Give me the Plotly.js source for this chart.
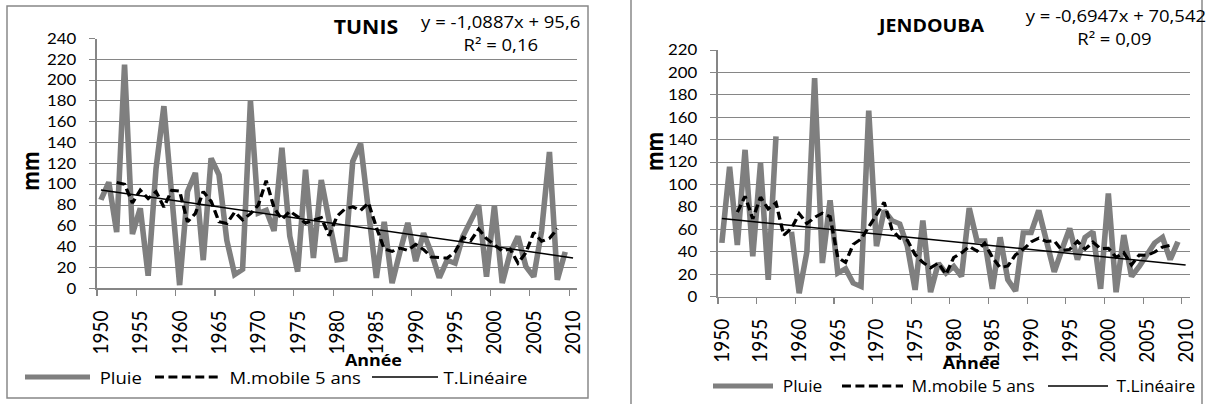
<!DOCTYPE html>
<html><head><meta charset="utf-8">
<script src="https://cdn.plot.ly/plotly-3.0.1.min.js"></script>
<style>
html,body{margin:0;padding:0;background:#fff;overflow:hidden;}
#wrap{width:1206px;height:404px;overflow:hidden;}
#chart{width:1077px;height:404px;transform:scaleX(1.11978);transform-origin:0 0;}
</style></head><body><div id="wrap"><div id="chart"></div></div>
<script>
// ---- categories ----
const years = [];
for (let y = 1950; y <= 2010; y++) years.push(String(y));

// ---- TUNIS ----
const tunisRain = [85,102,54,215,52,77,12,115,175,85, 3,93,111,27,125,109,46,13,18,180,
  72,75,55,135,50,16,114,29,104,65, 27,28,122,139,75,10,64,5,35,63,
  26,53,34,10,27,24,50,64,80,11, 79,5,34,50,21,11,55,131,8,35];
const tunisMA = [101.6,100,82,94.2,86.2,92.8,78,94.2,93.4,63.8,
  71.8,93,83.6,64,62.2,73.2,65.8,71.6,80,103.4,
  77.4,66.2,74,68.8,62.6,65.6,67.8,50.6,69.2,76.2,
  78.2,74.8,82,58.6,37.8,35.4,38.6,36.4,42.2,37.2,
  30,29.6,29,35,49,45.8,56.8,47.8,41.8,35.8,
  37.8,24.2,34.2,53.6,45.2,48,57.3];
const tunisTrendYears = ["1950","2010"];
const tunisTrend = [94.5, 29.2];

// ---- JENDOUBA ----
const jendRain = [48,116,46,131,36,119,15,143,null,58, 3,40,195,30,86,21,25,12,9,166,
  45,77,68,65,45,6,68,4,30,21, 27,18,79,50,50,7,53,15,5,57,
  57,77,48,22,42,61,33,53,58,7, 92,4,55,18,27,38,48,53,33,49];
const jendMA = [75.4,89.6,69.4,88.8,78.3,83.8,54.8,61,74,65.2,
  70.8,74.4,71.4,34.8,30.6,46.6,51.4,61.8,73,84.2,
  60,52.2,50.4,37.6,30.6,25.8,30,20,35,39,
  44.8,40.8,47.8,35,26,27.4,37.4,42.2,48.8,52.2,
  49.2,50,41.2,42.2,49.4,42.4,48.6,42.8,43.2,35.2,
  39.2,28.4,37.2,36.8,39.8,44.2,45.8];
const jendTrendYears = ["1950","2010"];
const jendTrend = [69.8, 28.2];

// ---- text ----
const seriesNames = ["Pluie", "M.mobile 5 ans", "T.Linéaire"];
const tunisTitle = "TUNIS", jendTitle = "JENDOUBA";
const tunisEq = "y = -1,0887x + 95,6", tunisR2 = "R² = 0,16";
const jendEq = "y = -0,6947x + 70,542", jendR2 = "R² = 0,09";
const yTitle = "mm", xTitle = "Année";

const W = 1206, H = 404;
const px = x => x / W, py = y => 1 - y / H;
const grid = '#868686', rainCol = '#7f7f7f';
const TICKFONT = 'Lato, "Open Sans", sans-serif';
const TEXTFONT = '"Open Sans", Lato, sans-serif';

const rainX = years.slice(0, 60);
const maX = years.slice(2, 59);

const traces = [
  {x: rainX, y: tunisRain, xaxis:'x', yaxis:'y', mode:'lines', name: seriesNames[0], connectgaps:false,
   line:{color:rainCol, width:5}},
  {x: maX, y: tunisMA, xaxis:'x', yaxis:'y', mode:'lines', name: seriesNames[1],
   line:{color:'#000', width:3, dash:'8px,4px'}},
  {x: tunisTrendYears, y: tunisTrend, xaxis:'x', yaxis:'y', mode:'lines', name: seriesNames[2],
   line:{color:'#000', width:1.5}},
  {x: rainX, y: jendRain, xaxis:'x2', yaxis:'y2', mode:'lines', name: seriesNames[0], connectgaps:false,
   line:{color:rainCol, width:5}},
  {x: maX, y: jendMA, xaxis:'x2', yaxis:'y2', mode:'lines', name: seriesNames[1],
   line:{color:'#000', width:3, dash:'8px,4px'}},
  {x: jendTrendYears, y: jendTrend, xaxis:'x2', yaxis:'y2', mode:'lines', name: seriesNames[2],
   line:{color:'#000', width:1.5}}
];

function xAxis(domain, anchor) {
  return {domain, anchor, type:'category', categoryorder:'array', categoryarray: years,
    range:[-0.5, 60.5], tickmode:'linear', tick0:0, dtick:5, tickson:'boundaries',
    ticks:'outside', ticklen:6, tickwidth:1, tickcolor:grid, showline:true, linecolor:grid,
    linewidth:1.5, showgrid:false, zeroline:false, tickangle:-90,
    tickfont:{size:19, family:TICKFONT, color:'#000'}, ticklabelstandoff:13, fixedrange:true};
}
function yAxis(domain, anchor, max) {
  return {domain, anchor, range:[0, max], tickmode:'linear', tick0:0, dtick:20,
    ticks:'outside', ticklen:6, tickwidth:1, tickcolor:grid, showline:true, linecolor:grid,
    linewidth:1.5, showgrid:true, gridcolor:grid, gridwidth:1, zeroline:false,
    tickfont:{size:15, family:TICKFONT, color:'#000'}, ticklabelstandoff:8, fixedrange:true};
}

function ann(text, x, y, size, opts) {
  return Object.assign({text, x:px(x), y:py(y), xref:'paper', yref:'paper', showarrow:false,
    xanchor:'center', yanchor:'middle', font:{size, family:TEXTFONT, color:'#000'}}, opts || {});
}
function legLine(x0, x1, y, color, width, dash) {
  return {type:'line', xref:'paper', yref:'paper', x0:px(x0), x1:px(x1), y0:py(y), y1:py(y),
    line:{color, width, dash: dash || 'solid'}};
}

const shapes = [
  {type:'rect', xref:'paper', yref:'paper', x0:px(7), x1:px(588), y0:py(6), y1:py(398),
   line:{color:grid, width:1.3}, fillcolor:'rgba(0,0,0,0)', layer:'below'},
  {type:'rect', xref:'paper', yref:'paper', x0:px(631), x1:px(1202), y0:py(-20), y1:py(430),
   line:{color:grid, width:1.3}, fillcolor:'rgba(0,0,0,0)', layer:'below'},
  legLine(25, 90, 377, rainCol, 5),
  legLine(155, 220, 377, '#000', 3, '8px,4px'),
  legLine(372, 438, 377, '#000', 1.5),
  legLine(713, 773, 386, rainCol, 5),
  legLine(842, 903, 386, '#000', 3, '8px,4px'),
  legLine(1048, 1108, 386, '#000', 1.5)
];

const annotations = [
  ann('<b>' + tunisTitle + '</b>', 366.5, 27, 19),
  ann(tunisEq, 501, 21, 16.5),
  ann(tunisR2, 501, 45, 16.5),
  ann('<b>' + yTitle + '</b>', 31, 171, 20, {textangle:-90}),
  ann('<b>' + xTitle + '</b>', 374, 360, 16),
  ann(seriesNames[0], 97, 377, 16.5, {xanchor:'left'}),
  ann(seriesNames[1], 227, 377, 16.5, {xanchor:'left'}),
  ann(seriesNames[2], 441, 377, 16.5, {xanchor:'left'}),

  ann('<b>' + jendTitle + '</b>', 931.5, 25, 17.5),
  ann(jendEq, 1115.5, 15, 16.5),
  ann(jendR2, 1115, 38.5, 16.5),
  ann('<b>' + yTitle + '</b>', 654, 152, 20, {textangle:-90}),
  ann('<b>' + xTitle + '</b>', 971, 363, 16),
  ann(seriesNames[0], 780, 386, 15.5, {xanchor:'left'}),
  ann(seriesNames[1], 909, 386, 15.5, {xanchor:'left'}),
  ann(seriesNames[2], 1114, 386, 15.5, {xanchor:'left'})
];

const layout = {
  width:1077, height:404, margin:{l:0, r:0, t:0, b:0},
  paper_bgcolor:'#fff', plot_bgcolor:'#fff', showlegend:false,
  font:{family:TEXTFONT, color:'#000'},
  xaxis: xAxis([px(97), px(577)], 'y'),
  yaxis: yAxis([py(288.3), py(38.5)], 'x', 240),
  xaxis2: xAxis([px(718), px(1189.5)], 'y2'),
  yaxis2: yAxis([py(296.7), py(50)], 'x2', 220),
  shapes, annotations
};

Plotly.newPlot('chart', traces, layout, {staticPlot:true, displayModeBar:false, responsive:false});
</script></body></html>
